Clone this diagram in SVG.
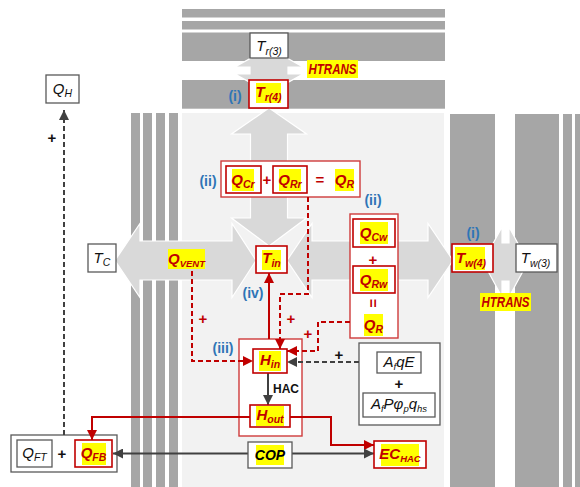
<svg xmlns="http://www.w3.org/2000/svg" width="580" height="487" viewBox="0 0 580 487">
<defs>
<style>
.band{fill:#a6a6a6}
.bg{fill:#f2f2f2}
.big{fill:#d9d9d9;stroke:#fff;stroke-width:1.2}
.gb{fill:#fff;stroke:#595959;stroke-width:1.3}
.rb{fill:#fff;stroke:#c00000;stroke-width:1.6}
.ro{fill:#fff;stroke:#cf3b3b;stroke-width:1.4}
.hl{fill:#ffff00}
text{font-family:"Liberation Sans",Arial,sans-serif}
.k{font-size:15px;font-style:italic;fill:#111;text-anchor:middle}
.r{font-size:15px;font-style:italic;font-weight:bold;fill:#c00000;text-anchor:middle}
.kb{font-size:14px;font-style:italic;font-weight:bold;fill:#000;text-anchor:middle}
.b{font-size:14px;font-weight:bold;fill:#2e75b6;text-anchor:middle}
.op{font-size:15px;font-weight:bold;fill:#c00000;text-anchor:middle}
.opk{font-size:15px;font-weight:bold;fill:#111;text-anchor:middle}
.rd{fill:none;stroke:#c00000;stroke-width:2;stroke-dasharray:5 3}
.rs{fill:none;stroke:#c00000;stroke-width:2}
.gd{fill:none;stroke:#404040;stroke-width:2;stroke-dasharray:5 3}
.gs{fill:none;stroke:#404040;stroke-width:2}
</style>
<marker id="ar" viewBox="0 0 10 10" refX="10" refY="5" markerWidth="10" markerHeight="10" markerUnits="userSpaceOnUse" orient="auto-start-reverse"><path d="M0,0 L10,5 L0,10 z" fill="#c00000"/></marker>
<marker id="ag" viewBox="0 0 10 10" refX="10" refY="5" markerWidth="10" markerHeight="10" markerUnits="userSpaceOnUse" orient="auto-start-reverse"><path d="M0,0 L10,5 L0,10 z" fill="#404040"/></marker>
</defs>

<g id="background">
<rect class="band" x="182" y="9" width="263" height="8.5"/>
<rect class="band" x="182" y="21" width="263" height="8.5"/>
<rect class="band" x="182" y="32.5" width="263" height="28.5"/>
<rect class="band" x="182" y="80" width="263" height="28.7"/>
<rect class="bg" x="182" y="113" width="262" height="374"/>
<rect class="band" x="131" y="113" width="9" height="374"/>
<rect class="band" x="143" y="113" width="9" height="374"/>
<rect class="band" x="156" y="113" width="9" height="374"/>
<rect class="band" x="169" y="113" width="9" height="374"/>
<rect class="band" x="450" y="114" width="45" height="373"/>
<rect class="band" x="515" y="114" width="44" height="373"/>
<rect class="band" x="563" y="114" width="9" height="373"/>
<rect class="band" x="575" y="114" width="5" height="373"/>
</g>

<g id="flows">
<polygon class="big" points="269,48 303,67 288,67 288,74 303,74 269,93 235,74 250,74 250,67 235,67"/>
<polygon class="big" points="483,262 502,227 502,243 509,243 509,227 528,262 509,297 509,281 502,281 502,297"/>
<polygon class="big" points="115,260.5 140,223.5 140,241 232,241 232,223.5 256,260.5 232,297.5 232,280 140,280 140,297.5"/>
<polygon class="big" points="287,260.5 312,223.5 312,241 428,241 428,223.5 453,260.5 428,297.5 428,280 312,280 312,297.5"/>
<polygon class="big" points="269,108 306.5,134 287.5,134 287.5,218 306.5,218 269,246 231.5,218 250.5,218 250.5,134 231.5,134"/>
</g>

<g id="containers">
<rect id="QR-roof-frame" class="ro" x="221" y="161" width="139" height="36"/>
<rect id="QR-wall-frame" class="ro" x="350" y="214" width="48" height="124"/>
<rect id="HAC-zone-frame" class="ro" x="239" y="339" width="63" height="97"/>
<rect id="solar-frame" class="gb" x="359" y="343" width="81" height="82"/>
<rect id="QF-frame" class="gb" x="11" y="435" width="106" height="37"/>
</g>

<g id="connectors">
<path class="gd" d="M64,435 V110" marker-end="url(#ag)"/>
<path class="rd" d="M192,271 V361 H253" marker-end="url(#ar)"/>
<path class="rd" d="M308,197 V294 H280 V349" marker-end="url(#ar)"/>
<path class="rd" d="M350,322 H318 V351 H287" marker-end="url(#ar)"/>
<path class="gd" d="M359,362 H287" marker-end="url(#ag)"/>
<path class="rs" d="M269,339 V273" marker-end="url(#ar)"/>
<path class="gs" d="M268,373 V405" marker-end="url(#ag)"/>
<path class="rs" d="M250,417 H92 V440" marker-end="url(#ar)"/>
<path class="rs" d="M290,417 H331 V445 H374" marker-end="url(#ar)"/>
<path class="gs" d="M113,453.5 H374" marker-start="url(#ag)" marker-end="url(#ag)"/>
<text class="opk" x="52" y="143">+</text>
<text class="op" x="203" y="324">+</text>
<text class="op" x="291" y="324">+</text>
<text class="op" x="308" y="339">+</text>
<text class="opk" x="339" y="360">+</text>
</g>

<g id="Tr3">
<rect class="gb" x="250" y="33" width="38" height="25"/>
<text class="k" x="269" y="51">T<tspan font-size="10.5" dy="4">r(3)</tspan></text>
</g>
<g id="Tr4">
<rect class="rb" x="249" y="80" width="39" height="28"/>
<rect class="hl" x="256" y="83" width="25" height="20"/>
<text class="r" x="268.5" y="97">T<tspan font-size="10.5" dy="4">r(4)</tspan></text>
<text class="b" x="235" y="101">(i)</text>
</g>
<g id="htrans-top">
<rect class="hl" x="307" y="60" width="51" height="18"/>
<text class="r" x="332.5" y="74" font-size="13" textLength="48" lengthAdjust="spacingAndGlyphs">HTRANS</text>
</g>

<g id="QH">
<rect class="gb" x="46" y="75" width="33" height="28"/>
<text class="k" x="62.5" y="94">Q<tspan font-size="10.5" dy="3">H</tspan></text>
</g>

<g id="TC">
<rect class="gb" x="88" y="244" width="28" height="28"/>
<text class="k" x="102" y="263">T<tspan font-size="10.5" dy="3">C</tspan></text>
</g>

<g id="QVENT">
<rect class="hl" x="168" y="249" width="37" height="20"/>
<text class="r" x="186.5" y="264">Q<tspan font-size="9.5" dy="3">VENT</tspan></text>
</g>

<g id="Tin">
<rect class="rb" x="256" y="246" width="31" height="27"/>
<rect class="hl" x="262" y="250" width="19" height="20"/>
<text class="r" x="271.5" y="263">T<tspan font-size="10.5" dy="4">in</tspan></text>
<text class="b" x="253" y="298">(iv)</text>
</g>

<g id="Tw4">
<rect class="rb" x="452" y="244" width="41" height="28"/>
<rect class="hl" x="455" y="247" width="30" height="23"/>
<text class="r" x="471" y="263">T<tspan font-size="10.5" dy="4">w(4)</tspan></text>
<text class="b" x="473" y="238">(i)</text>
</g>
<g id="Tw3">
<rect class="gb" x="516" y="244" width="41" height="28"/>
<text class="k" x="535.5" y="263">T<tspan font-size="10.5" dy="4">w(3)</tspan></text>
</g>
<g id="htrans-right">
<rect class="hl" x="480" y="293" width="51" height="18"/>
<text class="r" x="505.5" y="307" font-size="13" textLength="48" lengthAdjust="spacingAndGlyphs">HTRANS</text>
</g>

<g id="QR-roof">
<rect class="rb" x="226" y="166" width="35" height="27"/>
<rect class="hl" x="232" y="169" width="22" height="22"/>
<text class="r" x="243" y="185">Q<tspan font-size="10.5" dy="3">Cr</tspan></text>
<text class="op" x="267" y="185">+</text>
<rect class="rb" x="273" y="166" width="34" height="27"/>
<rect class="hl" x="279" y="169" width="22" height="22"/>
<text class="r" x="290" y="185">Q<tspan font-size="10.5" dy="3">Rr</tspan></text>
<text class="op" x="320" y="185">=</text>
<rect class="hl" x="335" y="169" width="19" height="22"/>
<text class="r" x="344.5" y="185">Q<tspan font-size="10.5" dy="3">R</tspan></text>
<text class="b" x="208" y="186">(ii)</text>
</g>

<g id="QR-wall">
<rect class="rb" x="353" y="219" width="42" height="28"/>
<rect class="hl" x="360" y="222" width="28" height="22"/>
<text class="r" x="373.5" y="238">Q<tspan font-size="10.5" dy="3">Cw</tspan></text>
<text class="op" x="373" y="265">+</text>
<rect class="rb" x="353" y="266" width="42" height="27"/>
<rect class="hl" x="360" y="269" width="28" height="22"/>
<text class="r" x="373.5" y="285">Q<tspan font-size="10.5" dy="3">Rw</tspan></text>
<text class="op" x="0" y="0" transform="translate(373,303) rotate(90)" dy="5">=</text>
<rect class="hl" x="364" y="314" width="19" height="22"/>
<text class="r" x="373.5" y="330">Q<tspan font-size="10.5" dy="3">R</tspan></text>
<text class="b" x="373" y="205">(ii)</text>
</g>

<g id="HAC-zone">
<text class="b" x="223" y="353">(iii)</text>
<text x="286" y="393" font-size="12" font-weight="bold" fill="#111" text-anchor="middle">HAC</text>
</g>
<g id="Hin">
<rect class="rb" x="253" y="349" width="34" height="24"/>
<rect class="hl" x="259" y="351" width="22" height="20"/>
<text class="r" x="270" y="365">H<tspan font-size="10.5" dy="3">in</tspan></text>
</g>
<g id="Hout">
<rect class="rb" x="250" y="405" width="40" height="22"/>
<rect class="hl" x="256" y="406" width="28" height="20"/>
<text class="r" x="270" y="420">H<tspan font-size="10.5" dy="3">out</tspan></text>
</g>

<g id="solar">
<rect class="gb" x="377" y="352" width="44" height="21"/>
<text class="k" x="399" y="367">A<tspan font-size="9.5" dy="3">f</tspan><tspan dy="-3">qE</tspan></text>
<text class="opk" x="399" y="389" font-weight="normal" fill="#333">+</text>
<rect class="gb" x="363" y="393" width="72" height="24"/>
<text class="k" x="399" y="409">A<tspan font-size="9.5" dy="3">f</tspan><tspan dy="-3">Pφ</tspan><tspan font-size="9.5" dy="3">p</tspan><tspan dy="-3">q</tspan><tspan font-size="9.5" dy="3">hs</tspan></text>
</g>

<g id="QF">
<rect class="gb" x="17" y="440" width="35" height="27"/>
<text class="k" x="34.5" y="458">Q<tspan font-size="10.5" dy="3">FT</tspan></text>
<text class="opk" x="62" y="459" font-weight="normal">+</text>
<rect class="rb" x="75" y="440" width="37" height="27"/>
<rect class="hl" x="82" y="443" width="24" height="22"/>
<text class="r" x="93.5" y="458">Q<tspan font-size="10.5" dy="3">FB</tspan></text>
</g>

<g id="COP">
<rect class="gb" x="248" y="442" width="44" height="26"/>
<rect class="hl" x="256" y="445" width="28" height="20"/>
<text class="kb" x="270" y="460">COP</text>
</g>

<g id="ECHAC">
<rect class="rb" x="374" y="441" width="52" height="27"/>
<rect class="hl" x="381" y="444" width="38" height="22"/>
<text class="r" x="400" y="459" font-size="14">EC<tspan font-size="9.5" dy="3">HAC</tspan></text>
</g>
</svg>
